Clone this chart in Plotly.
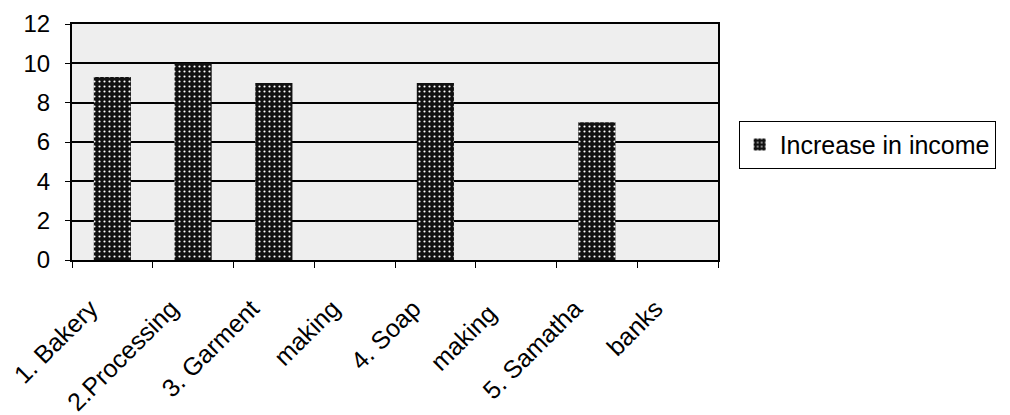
import plotly.graph_objects as go

# Programme categories (multi-line names split across adjacent category slots)
categories = ["1. Bakery", "2.Processing", "3. Garment", "making",
              "4. Soap", "making ", "5. Samatha", "banks"]
increase_in_income = [9.3, 10, 9, 0, 9, 0, 7, 0]
y_ticks = [0, 2, 4, 6, 8, 10, 12]

FONT = "Liberation Sans, Arial, sans-serif"

fig = go.Figure()
fig.add_trace(go.Bar(
    x=categories,
    y=increase_in_income,
    name="Increase in income",
    marker=dict(
        color="#111111",
        line=dict(width=0),
        pattern=dict(shape=".", fgcolor="#ffffff", bgcolor="#111111",
                     size=5, solidity=0.15, fillmode="replace"),
    ),
))

fig.update_layout(
    width=1010,
    height=415,
    margin=dict(l=72, r=292, t=24, b=155, pad=0),
    paper_bgcolor="#ffffff",
    plot_bgcolor="#eeeeee",
    bargap=0.54,
    showlegend=True,
    font=dict(family=FONT, color="#000000", size=24),
    legend=dict(
        x=1.032, y=0.59, xanchor="left", yanchor="top",
        bgcolor="#ffffff", bordercolor="#000000", borderwidth=1,
        font=dict(size=25, family=FONT),
        itemwidth=30,
    ),
    xaxis=dict(
        type="category",
        automargin=False,
        tickson="boundaries",
        ticks="outside", ticklen=6, tickcolor="#000000", tickwidth=1,
        tickangle=-45,
        tickfont=dict(size=25, family=FONT),
        ticklabelstandoff=22,
        ticklabelshift=-22,
        showline=True, linecolor="#000000", linewidth=2, mirror=True,
        showgrid=False,
    ),
    yaxis=dict(
        range=[0, 12],
        automargin=False,
        tickvals=y_ticks,
        ticks="outside", ticklen=5, tickcolor="#000000",
        tickfont=dict(size=24, family=FONT),
        ticklabelstandoff=10,
        showline=True, linecolor="#000000", linewidth=2, mirror=True,
        showgrid=True, gridcolor="#000000", gridwidth=2,
        zeroline=False,
    ),
)

fig.write_html("out.html")
